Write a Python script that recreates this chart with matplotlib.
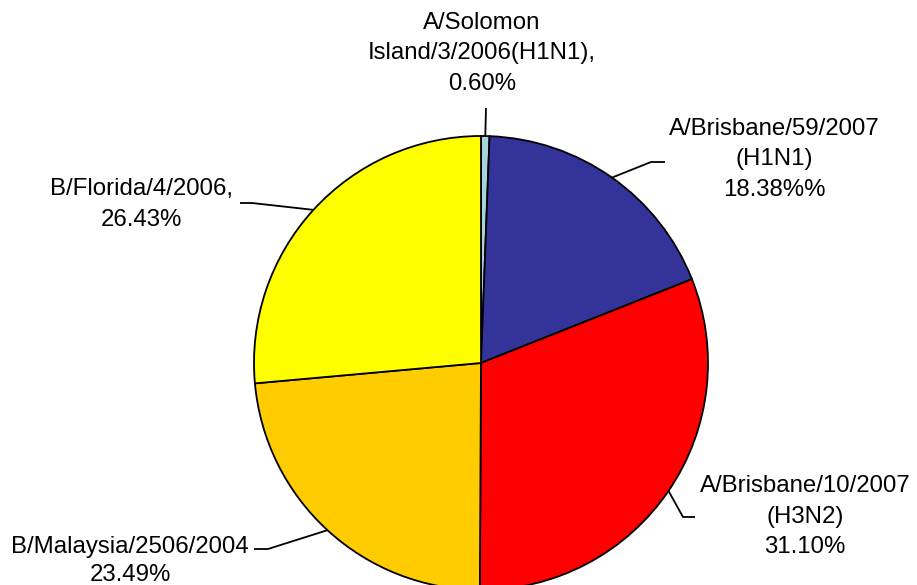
import numpy as np
import matplotlib
matplotlib.use("Agg")
import matplotlib.pyplot as plt

# Influenza strain shares (%)
strains = [
    "A/Solomon\nIsland/3/2006(H1N1),\n0.60%",
    "A/Brisbane/59/2007\n(H1N1)\n18.38%%",
    "A/Brisbane/10/2007\n(H3N2)\n31.10%",
    "B/Malaysia/2506/2004\n23.49%",
    "B/Florida/4/2006,\n26.43%",
]
shares = [0.60, 18.38, 31.10, 23.49, 26.43]
colors = ["#A6D3DC", "#333399", "#FF0000", "#FFCC00", "#FFFF00"]

W, H = 917, 585
fig = plt.figure(figsize=(W / 100, H / 100), dpi=100)
ax = fig.add_axes([0, 0, 1, 1])

cx, cy, r = 481, H - 363, 227
wedges, _ = ax.pie(shares, colors=colors, startangle=90, counterclock=False,
                   center=(cx, cy), radius=r, frame=True,
                   wedgeprops=dict(edgecolor="black", linewidth=1.3))
ax.set_xlim(0, W)
ax.set_ylim(0, H)
ax.set_aspect("equal")
ax.axis("off")

# elbow / end of each leader line, label centre and line spacing
# (pixel coords, y measured from the top)
leaders = [
    ((486, 108), None, (482, 22), 1.5),
    ((651, 162), (665, 162), (774, 128), 1.5),
    ((683, 517), (695, 517), (805, 485), 1.5),
    ((268, 549), (254, 549), (130, 546), 1.35),
    ((252, 203), (240, 203), (141, 188), 1.5),
]

for w, label, (elbow, end, pos, ls) in zip(wedges, strains, leaders):
    mid = np.deg2rad((w.theta1 + w.theta2) / 2)
    sx, sy = cx + r * np.cos(mid), cy + r * np.sin(mid)
    xs = [sx, elbow[0]]
    ys = [sy, H - elbow[1]]
    if end is not None:
        xs.append(end[0])
        ys.append(H - end[1])
    ax.plot(xs, ys, color="black", lw=1.3, solid_capstyle="butt")
    ax.text(pos[0], H - pos[1] + 10, label, ha="center", va="top",
            fontsize=17.3, family="Liberation Sans", linespacing=ls,
            color="black")

fig.savefig("out.png", dpi=100)
